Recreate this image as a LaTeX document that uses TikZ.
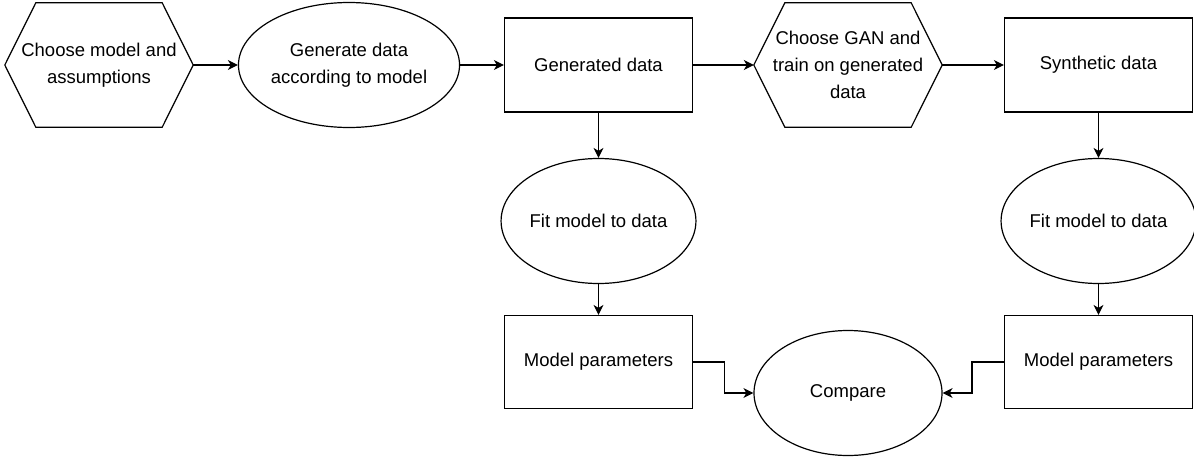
\documentclass[tikz,border=0pt]{standalone}
\usepackage{fontspec}
\setmainfont{Liberation Sans}
\usetikzlibrary{arrows.meta,shapes.geometric,calc}
\begin{document}
\begin{tikzpicture}[x=1pt,y=1pt,
  every node/.style={font=\fontsize{18.5}{27}\selectfont, align=center, inner sep=0pt},
  box/.style={draw, line width=1.2pt, minimum width=188pt, minimum height=94pt},
  oval/.style={draw, ellipse, line width=1.2pt, minimum width=188pt, minimum height=125pt},
  hexa/.style={minimum width=188pt, minimum height=124pt},
  hexline/.style={draw, line width=1.2pt, line join=miter},
  conn/.style={draw, line width=1.2pt, -{Stealth[length=10pt,width=10pt,inset=3pt]}}
]
\useasboundingbox (0,0) rectangle (1194,-461);
\node[hexa] (h1) at (99,-65) {Choose model and\\assumptions};
\node[oval] (e1) at (349,-65) {Generate data\\according to model};
\node[box] (r1) at (598.5,-65) {Generated data};
\node[hexa] (h2) at (848,-65) {Choose GAN and\\train on generated\\data};
\node[box] (r2) at (1098.5,-65) {Synthetic data};
\node[oval] (f1) at (598.5,-221) {Fit model to data};
\node[oval] (f2) at (1098.5,-221) {Fit model to data};
\node[box, minimum height=93pt] (m1) at (598.5,-362) {Model parameters};
\node[box, minimum height=93pt] (m2) at (1098.5,-362) {Model parameters};
\node[oval] (c) at (848,-393) {Compare};
\foreach \h in {h1,h2}{
  \path[hexline] (\h.west) -- ([xshift=31pt]\h.north west) -- ([xshift=-31pt]\h.north east)
    -- (\h.east) -- ([xshift=-31pt]\h.south east) -- ([xshift=31pt]\h.south west) -- cycle;
}
\path[conn] (h1.east) -- (e1.west);
\path[conn] (e1.east) -- (r1.west);
\path[conn] (r1.east) -- (h2.west);
\path[conn] (h2.east) -- (r2.west);
\path[conn] (r1.south) -- (f1.north);
\path[conn] (f1.south) -- (m1.north);
\path[conn] (r2.south) -- (f2.north);
\path[conn] (f2.south) -- (m2.north);
\path[conn] (m1.east) -- ++(31,0) |- (c.west);
\path[conn] (m2.west) -- ++(-32,0) |- (c.east);
\end{tikzpicture}
\end{document}
